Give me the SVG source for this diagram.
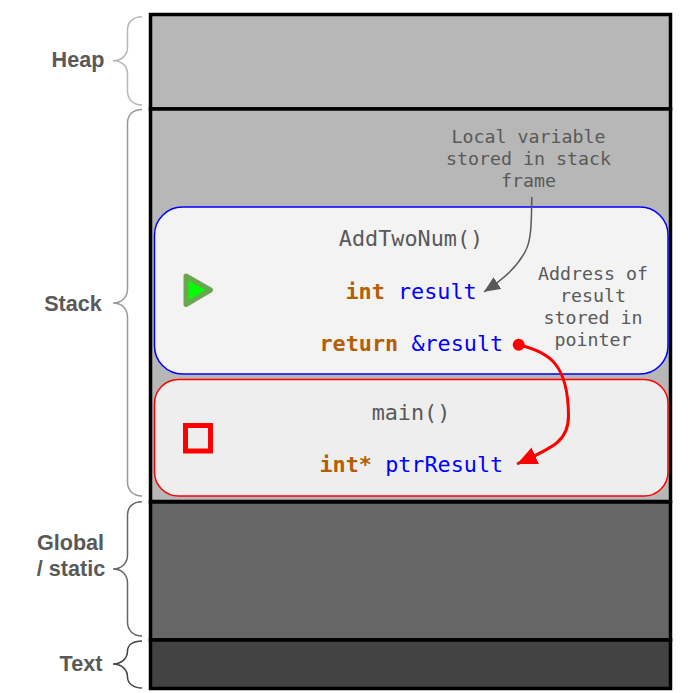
<svg xmlns="http://www.w3.org/2000/svg" width="694" height="693" viewBox="0 0 694 693">
<style>
.seg{stroke:#000;stroke-width:3.5}
.brace{fill:none;stroke-width:1.5}
.lbl{font:bold 21.6px "Liberation Sans",Arial,sans-serif;fill:#595959;text-anchor:middle}
.code{font:21.8px "DejaVu Sans Mono","Liberation Mono",monospace}
.kw{font-weight:bold;fill:#b45f06}
.var{fill:#0000ff}
.name{fill:#595959}
.note{font:18.3px "DejaVu Sans Mono","Liberation Mono",monospace;fill:#595959;text-anchor:middle}
</style>
<defs>
<marker id="g" markerUnits="userSpaceOnUse" markerWidth="18" markerHeight="16" refX="16" refY="7" orient="auto"><path d="M0 0L16 7L0 14Z" fill="#595959"/></marker>
<marker id="r" markerUnits="userSpaceOnUse" markerWidth="22" markerHeight="20" refX="20" refY="9" orient="auto"><path d="M0 0L20 9L0 18Z" fill="#ff0000"/></marker>
</defs>
<rect width="694" height="693" fill="#fff"/>
<g id="heap"><rect class="seg" x="150.500" y="14.500" width="520" height="94.500" fill="#b7b7b7"/></g>
<g id="stack"><rect class="seg" x="150.500" y="109" width="520" height="392.500" fill="#b7b7b7"/></g>
<g id="global"><rect class="seg" x="150.500" y="502" width="520" height="138" fill="#666666"/></g>
<g id="text"><rect class="seg" x="150.500" y="640" width="520" height="48.500" fill="#434343"/></g>
<g id="heap-label"><path class="brace" stroke="#b7b7b7" d="M142 16.800C133 16.800 127.500 22 127.500 30V47C127.500 55 122 60.700 113 60.700C122 60.700 127.500 66 127.500 74V91C127.500 99 133 105 142 105"/><text class="lbl" x="78" y="67">Heap</text></g>
<g id="stack-label"><path class="brace" stroke="#999999" d="M142 109.500C133 109.500 127.500 115 127.500 123V289C127.500 297 122 303 113 303C122 303 127.500 309 127.500 317V482C127.500 490 133 496 142 496"/><text class="lbl" x="73" y="311">Stack</text></g>
<g id="global-label"><path class="brace" stroke="#666666" d="M142 501.800C133 501.800 127.500 507 127.500 515V555C127.500 563 122 569 113 569C122 569 127.500 575 127.500 583V622C127.500 630 133 636 142 636"/><text class="lbl" x="70.500" y="549.500">Global</text><text class="lbl" x="71" y="575.700">/ static</text></g>
<g id="text-label"><path class="brace" stroke="#434343" d="M142 641C133 641 127.500 645 127.500 651C127.500 658 122 664 113 664C122 664 127.500 670 127.500 677C127.500 683 133 688 142 688"/><text class="lbl" x="81" y="670.600">Text</text></g>
<g id="addtwonum-frame">
<rect x="154.500" y="207" width="513.500" height="167" rx="28" fill="#f3f3f3" stroke="#0000ff" stroke-width="1.500"/>
<path d="M186 276L210.500 290L186 304.500Z" fill="#00ff00" stroke="#6aa84f" stroke-width="5" stroke-linejoin="round"/>
<text class="code name" x="411" y="246" text-anchor="middle">AddTwoNum()</text>
<text class="code" x="345.500" y="299"><tspan class="kw">int</tspan> <tspan class="var">result</tspan></text>
<text class="code" x="319.500" y="351"><tspan class="kw">return</tspan> <tspan class="var">&amp;result</tspan></text>
<text class="note" x="593" y="280">Address of</text><text class="note" x="593" y="302">result</text><text class="note" x="593" y="324">stored in</text><text class="note" x="593" y="346">pointer</text>
</g>
<g id="main-frame">
<rect x="154.500" y="379.500" width="513.500" height="116.500" rx="24" fill="#eeeeee" stroke="#ff0000" stroke-width="1.500"/>
<rect x="185.500" y="425.500" width="25" height="25.500" fill="none" stroke="#ff0000" stroke-width="5"/>
<text class="code name" x="411" y="420" text-anchor="middle">main()</text>
<text class="code" x="319.500" y="472"><tspan class="kw">int*</tspan> <tspan class="var">ptrResult</tspan></text>
</g>
<g id="local-note">
<text class="note" x="528.500" y="143">Local variable</text><text class="note" x="528.500" y="165">stored in stack</text><text class="note" x="528.500" y="187">frame</text>
</g>
<g id="connectors">
<path d="M531.800 197C531.500 225 531 240 526 250C518 266 505 278 484 291.800" fill="none" stroke="#595959" stroke-width="1.500" marker-end="url(#g)"/>
<circle cx="518.700" cy="344.800" r="6" fill="#ff0000"/>
<path d="M519 345C550 352 568 365 568.500 415C569 440 555 447 517 464" fill="none" stroke="#ff0000" stroke-width="3" marker-end="url(#r)"/>
</g>
</svg>
